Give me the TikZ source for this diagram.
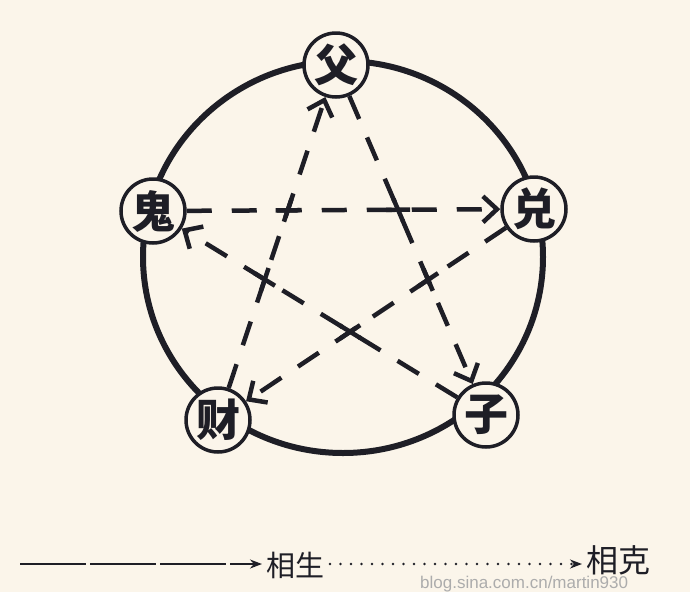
\documentclass[tikz,border=0pt]{standalone}
\usepackage{fontspec}
\newfontfamily\cjk{Noto Sans CJK SC}
\setsansfont{Liberation Sans}
\usetikzlibrary{arrows.meta,calc}
\definecolor{paper}{HTML}{FBF5EA}
\definecolor{ink}{HTML}{1E1E26}
\begin{document}
\begin{tikzpicture}[x=1pt,y=-1pt,
  liu/.style={circle,draw=ink,line width=3.5pt,fill=paper,minimum size=64pt,inner sep=0pt,
    font=\cjk\bfseries\fontsize{44}{44}\selectfont,text=ink},
  kearrow/.style={draw=ink,line width=4.5pt,dash pattern=on 25pt off 20pt,
    -{Straight Barb[length=14pt,width=26pt,line width=4.5pt]}},
  xseg/.style={draw=ink,line width=4.5pt},
  legtip/.style={-{Stealth[length=12pt,width=9pt]}},
  legtxt/.style={anchor=west,inner sep=0pt,text=ink,font=\cjk\fontsize{29}{29}\selectfont}
]
\useasboundingbox[fill=paper] (0,0) rectangle (690,592);

% big circle
\draw[ink,line width=6pt] (343,257) ellipse [x radius=200pt, y radius=196pt];

% centres
\coordinate (cfu) at (336,65);
\coordinate (cgui) at (153,211);
\coordinate (cxiong) at (534,209);
\coordinate (ccai) at (218,420);
\coordinate (czi) at (486,415);

\node[liu] (fu) at (cfu) {父};
\node[liu] (gui) at (cgui) {鬼};
\node[liu] (xiong) at (cxiong) {兑};
\node[liu] (cai) at (ccai) {财};
\node[liu] (zi) at (czi) {子};

% dashed ke arrows
\draw[kearrow] (gui) -- (xiong);
\draw[kearrow] (xiong) -- (cai);
\draw[kearrow] (cai) -- (fu);
\draw[kearrow] (fu) -- (zi);
\draw[kearrow] (zi) -- (gui);

% crossings
\coordinate (i1) at (intersection of cgui--cxiong and ccai--cfu);
\coordinate (i2) at (intersection of cgui--cxiong and cfu--czi);
\coordinate (i3) at (intersection of ccai--cfu and czi--cgui);
\coordinate (i4) at (intersection of czi--cgui and cxiong--ccai);
\coordinate (i5) at (intersection of cxiong--ccai and cfu--czi);
\foreach \p/\a/\b in {i1/cgui/ccai, i2/cgui/cfu, i3/ccai/czi, i4/czi/cxiong, i5/cxiong/cfu}{
  \draw[xseg] ($(\p)!12pt!(\a)$) -- ($(\p)!-12pt!(\a)$);
  \draw[xseg] ($(\p)!12pt!(\b)$) -- ($(\p)!-12pt!(\b)$);
}

% legend
\coordinate (l1) at (20,564);
\coordinate (l2) at (262,564);
\coordinate (l3) at (330,564);
\coordinate (l4) at (582,564);
\draw[ink,line width=2pt,dash pattern=on 66pt off 4pt,legtip] (l1) -- (l2);
\node[legtxt] (sheng) at (266,565) {相生};
\draw[ink,line width=2.6pt,line cap=round,dash pattern=on 0pt off 10.5pt,legtip] (l3) -- (l4);
\node[legtxt,font=\cjk\fontsize{32}{32}\selectfont] (ke) at (586,560) {相克};
\node[anchor=west,inner sep=0pt,text=gray!65,font=\sffamily\fontsize{17}{17}\selectfont] (wm) at (420,584) {blog.sina.com.cn/martin930};
\end{tikzpicture}
\end{document}
